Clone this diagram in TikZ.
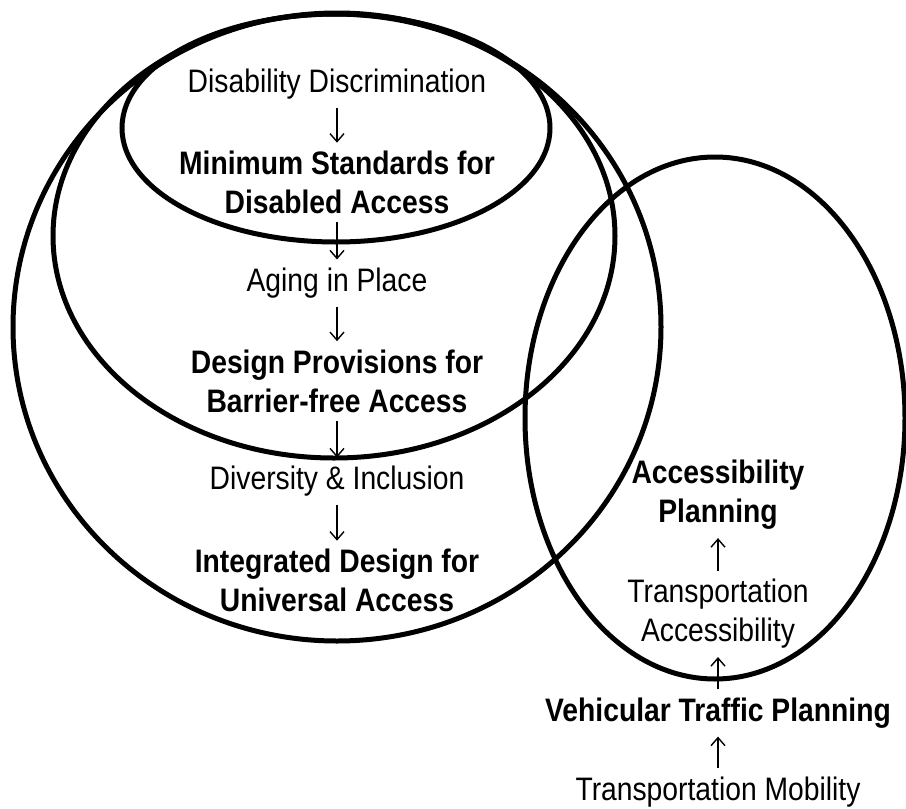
\documentclass[tikz,border=0pt]{standalone}
\usepackage{fontspec}
\setmainfont{Liberation Sans}[FakeStretch=0.87]
\usetikzlibrary{arrows.meta}

\tikzset{
    ring/.style={line width=2.5pt},
    stage/.style={inner sep=0pt,align=center,font=\fontsize{16.25}{19.5}\selectfont},
    keystage/.style={stage,font=\fontsize{16.25}{19.5}\selectfont\bfseries},
    flow/.style={line width=0.7pt,-{Straight Barb[length=4pt,width=7pt]},shorten <=4pt,shorten >=4pt}
}

\begin{document}
\begin{tikzpicture}[x=0.5pt,y=-0.5pt]
        \useasboundingbox (0,0) rectangle (906,809);

        % draw the four circles
        \draw[ring] (336,128) ellipse [x radius=214, y radius=114];
        \draw[ring] (334,236) ellipse [x radius=281, y radius=222];
        \draw[ring] (337,327) ellipse [x radius=324, y radius=314];
        \draw[ring] (715,418) ellipse [x radius=190, y radius=261];

        % left column, read downwards
        \node[stage]    (dd)  at (337,84)    {Disability Discrimination};
        \node[keystage] (msd) at (337,182.5) {Minimum Standards for\\Disabled Access};
        \node[stage]    (aip) at (337,283)   {Aging in Place};
        \node[keystage] (dpb) at (337,381)   {Design Provisions for\\Barrier-free Access};
        \node[stage]    (di)  at (337,481)   {Diversity \& Inclusion};
        \node[keystage] (idu) at (337,580.5) {Integrated Design for\\Universal Access};

        % right column, read upwards
        \node[keystage] (ap)  at (718,495) {Accessibility\\Planning};
        \node[stage]    (ta)  at (718,614) {Transportation\\Accessibility};
        \node[keystage] (vtp) at (718,713) {Vehicular Traffic Planning};
        \node[stage]    (tm)  at (718,792) {Transportation Mobility};

        % draw the arrows between the stages
        \foreach \a/\b in {dd/msd, msd/aip, aip/dpb, dpb/di, di/idu, tm/vtp, vtp/ta, ta/ap}
                \draw[flow] (\a) -- (\b);
\end{tikzpicture}
\end{document}
